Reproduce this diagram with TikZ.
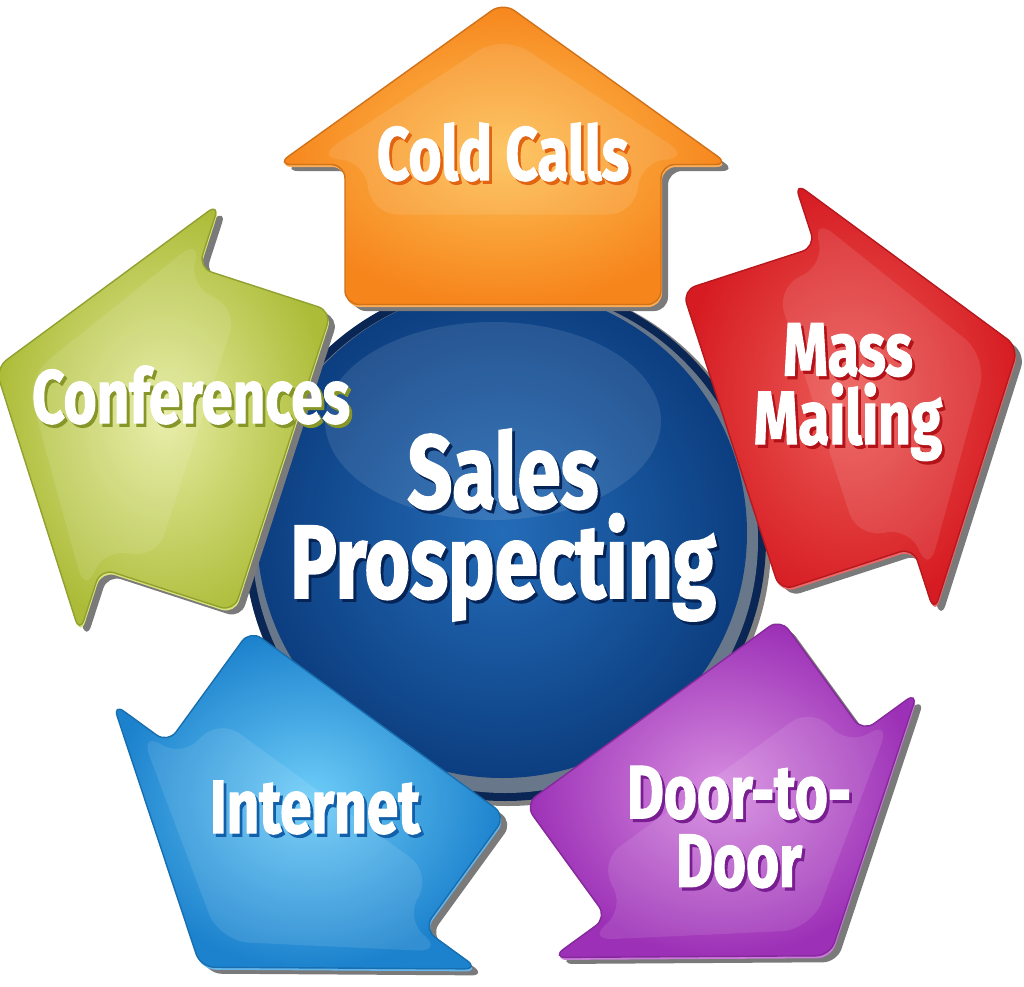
\documentclass[tikz,border=0pt]{standalone}
\usepackage{fontspec}
\newfontfamily\lblfont{Fira Sans}[FakeStretch=0.75,FakeBold=1.5]
\definecolor{orIn}{RGB}{253,192,84}\definecolor{orOut}{RGB}{246,133,28}\definecolor{orLip}{RGB}{251,172,86}\definecolor{orTx}{RGB}{226,100,18}
\definecolor{rdIn}{RGB}{236,92,88}\definecolor{rdOut}{RGB}{214,28,34}\definecolor{rdLip}{RGB}{234,104,104}\definecolor{rdTx}{RGB}{178,18,24}
\definecolor{puIn}{RGB}{214,140,224}\definecolor{puOut}{RGB}{156,48,182}\definecolor{puLip}{RGB}{202,122,217}\definecolor{puTx}{RGB}{120,30,145}
\definecolor{blIn}{RGB}{110,205,248}\definecolor{blOut}{RGB}{28,130,205}\definecolor{blLip}{RGB}{102,182,236}\definecolor{blTx}{RGB}{18,95,170}
\definecolor{gnIn}{RGB}{230,236,160}\definecolor{gnOut}{RGB}{172,188,56}\definecolor{gnLip}{RGB}{216,226,122}\definecolor{gnTx}{RGB}{135,150,40}
\definecolor{cIn}{RGB}{36,108,184}\definecolor{cOut}{RGB}{12,62,128}\definecolor{cBand}{RGB}{104,120,138}\definecolor{cRing}{RGB}{10,38,84}\definecolor{cTx}{RGB}{5,35,85}
\tikzset{
  arrowshadow/.style={fill=black!52},
  lbl/.style={text=white,font=\lblfont\bfseries\fontsize{21.5}{19.5}\selectfont,align=center,inner sep=0pt},
  biglbl/.style={text=white,font=\lblfont\bfseries\fontsize{29.7}{23.9}\selectfont,align=center,inner sep=0pt},
}
\newcommand\arrowpath{[rounded corners=0.14cm] (-1.40,0) -- (-1.40,-1.58) -- (0,-1.58) -- (0,-2.26) -- (1.62,0) -- (0,2.26) -- (0,1.58) -- (-1.40,1.58) -- cycle}
% #1 angle, #2 along, #3 perp, #4 inner, #5 outer, #6 lip
\newcommand\salesarrow[6]{%
  \begin{scope}[shift={(5.11,-5.44)},rotate=#1,xshift=#2cm,yshift=#3cm]\fill[arrowshadow]\arrowpath;\end{scope}
  \begin{scope}[shift={(5.05,-5.40)},rotate=#1,xshift=#2cm,yshift=#3cm]\fill[#6]\arrowpath;\end{scope}
  \begin{scope}[shift={(5.04,-5.375)},rotate=#1,xshift=#2cm,yshift=#3cm]
    \shade[inner color=#4,outer color=#5,draw=#5!85!black,line width=0.4pt]\arrowpath;
    \fill[white,opacity=0.10,rounded corners=0.3cm] (1.30,0) -- (0.05,1.9) -- (0.05,1.35) -- (-0.5,1.35) -- (-0.5,-1.35) -- (0.05,-1.35) -- (0.05,-1.9) -- cycle;
  \end{scope}}
% #1 name, #2 position, #3 anchor, #4 shadow colour, #5 style, #6 text
\newcommand\shadowtext[6]{%
  \node[#5,text=#4,anchor=#3,xshift=0.28mm,yshift=-0.32mm] (#1-s) at #2 {#6};
  \node[#5,anchor=#3] (#1) at #2 {#6};}
\begin{document}
\begin{tikzpicture}
\useasboundingbox (0,0) rectangle (10.24,-9.87);
\fill[white] (0,0) rectangle (10.24,-9.87);
% central circle
\fill[black!50] (5.08,-5.43) circle (2.63);
\fill[cRing] (5.05,-5.40) circle (2.61);
\fill[cBand] (5.05,-5.40) circle (2.53);
\shade[inner color=cIn,outer color=cOut] (5.02,-5.33) circle (2.45);
\fill[white,opacity=0.10] (4.93,-4.21) ellipse (1.68 and 0.99);
% arrows
\salesarrow{90}{3.73}{0.01}{orIn}{orOut}{orLip}
\salesarrow{18}{3.86}{0.22}{rdIn}{rdOut}{rdLip}
\salesarrow{-54}{3.68}{0.18}{puIn}{puOut}{puLip}
\salesarrow{-126}{3.64}{0.07}{blIn}{blOut}{blLip}
\salesarrow{162}{3.74}{-0.04}{gnIn}{gnOut}{gnLip}
% labels
\shadowtext{cold}{(5.03,-1.80)}{base}{orTx}{lbl}{Cold Calls}
\shadowtext{mass}{(8.48,-3.92)}{center}{rdTx}{lbl}{Mass\\Mailing}
\shadowtext{door}{(7.39,-8.27)}{center}{puTx}{lbl}{Door-to-\\Door}
\shadowtext{internet}{(3.15,-8.33)}{base}{blTx}{lbl}{Internet}
\shadowtext{conf}{(1.91,-4.23)}{base}{gnTx}{lbl}{Conferences}
\shadowtext{sales}{(5.03,-5.25)}{center}{cTx}{biglbl}{Sales\\Prospecting}
\end{tikzpicture}
\end{document}
